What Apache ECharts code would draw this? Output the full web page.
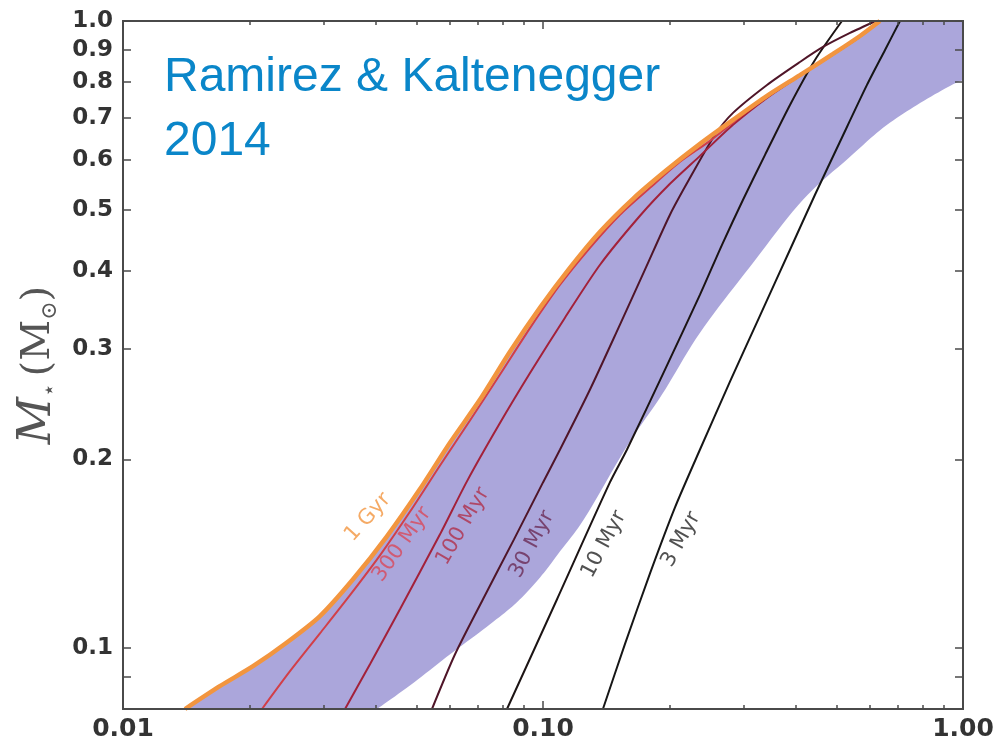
<!DOCTYPE html>
<html>
<head>
<meta charset="utf-8">
<script src="https://cdn.jsdelivr.net/npm/echarts@6/dist/echarts.min.js"></script>
<style>
  html, body { margin: 0; padding: 0; background: #ffffff; }
  #chart { width: 998px; height: 747px; }
</style>
</head>
<body>
<div id="chart"></div>
<script>
// Isochrones: stellar mass (M_sun) against distance, log-log
const iso1Gyr = [[0.01405,0.08],[0.0170,0.0870],[0.0204,0.0936],[0.0246,0.1022],[0.0294,0.1124],[0.0353,0.1288],[0.0425,0.1508],[0.0509,0.1792],[0.0601,0.2128],[0.0708,0.2491],[0.0835,0.2971],[0.0984,0.3491],[0.116,0.4043],[0.1367,0.4613],[0.1638,0.5206],[0.1973,0.579],[0.2365,0.637],[0.2834,0.6956],[0.3415,0.7597],[0.4091,0.820],[0.4903,0.886],[0.5685,0.9465],[0.634,1.0]];
const iso300Myr = [[0.02143,0.08],[0.02498,0.0919],[0.02944,0.1056],[0.03471,0.1215],[0.04091,0.1406],[0.0483,0.1653],[0.05686,0.1956],[0.0670,0.2307],[0.0790,0.2731],[0.0936,0.3256],[0.1098,0.3798],[0.1294,0.4350],[0.1525,0.4911],[0.1798,0.5421],[0.2120,0.5963],[0.2498,0.6440],[0.2944,0.7033],[0.3415,0.758],[0.4091,0.819],[0.4903,0.885],[0.5685,0.945],[0.634,1.0]];
const iso100Myr = [[0.03378,0.08],[0.03873,0.0943],[0.04565,0.1154],[0.05686,0.1519],[0.0659,0.1845],[0.0786,0.2273],[0.0936,0.2761],[0.1128,0.3365],[0.1367,0.4087],[0.1702,0.4892],[0.2006,0.5501],[0.2365,0.6095],[0.2834,0.6831],[0.3415,0.7541],[0.4091,0.818],[0.4903,0.884],[0.5685,0.944],[0.634,1.0]];
const iso30Myr = [[0.05441,0.08],[0.06174,0.0978],[0.07196,0.1197],[0.0853,0.1491],[0.1,0.1838],[0.1098,0.2074],[0.1294,0.2585],[0.1525,0.3281],[0.1749,0.4014],[0.2006,0.4911],[0.2239,0.5623],[0.2568,0.6585],[0.2834,0.7137],[0.3415,0.7908],[0.4091,0.8603],[0.4642,0.909],[0.5383,0.957],[0.62,1.0]];
const iso10Myr = [[0.08209,0.08],[0.1080,0.1197],[0.1443,0.1838],[0.1585,0.2074],[0.1952,0.2781],[0.2365,0.3662],[0.2668,0.4397],[0.2994,0.5188],[0.3378,0.6118],[0.3873,0.7348],[0.4442,0.8667],[0.515,1.0]];
const iso3Myr = [[0.1389,0.08],[0.1567,0.1015],[0.1798,0.1316],[0.2062,0.1677],[0.2365,0.2074],[0.2787,0.2661],[0.3286,0.3391],[0.3873,0.4318],[0.4442,0.5284],[0.5094,0.6418],[0.5907,0.7908],[0.6522,0.8991],[0.7079,1.0]];

// Shaded zone: upper edge follows the 1 Gyr curve, lower edge below
const bandUpper = iso1Gyr;
const bandCorner = [1.0, 1.0];
const bandLower = [[0.04025,0.08],[0.0483,0.0873],[0.0601,0.0978],[0.0748,0.1092],[0.0867,0.1184],[0.0984,0.1297],[0.1098,0.1427],[0.1259,0.1616],[0.1594,0.2113],[0.1920,0.2537],[0.2365,0.3185],[0.3111,0.4058],[0.4159,0.5188],[0.5383,0.6073],[0.6451,0.6755],[0.7771,0.7348],[0.931,0.788],[1.0,0.805]];

// Curve names and where each name sits (data coordinates)
const curveNames = ['1 Gyr','300 Myr','100 Myr','30 Myr','10 Myr','3 Myr'];
const nameAnchors = [[0.0383,0.1617],[0.04616,0.1464],[0.06449,0.1564],[0.09415,0.1464],[0.1397,0.1464],[0.2131,0.1491]];

// Axis ticks and labels
const xMajorTicks = [0.01, 0.1, 1];
const xMinorTicks = [0.02,0.03,0.04,0.05,0.06,0.07,0.08,0.09,0.2,0.3,0.4,0.5,0.6,0.7,0.8,0.9];
const xLabelValues = [0.01, 0.1, 1];
const xLabelTexts = ['0.01', '0.10', '1.00'];
const yTicks = [0.09,0.1,0.2,0.3,0.4,0.5,0.6,0.7,0.8,0.9,1.0];
const yLabelValues = [0.1,0.2,0.3,0.4,0.5,0.6,0.7,0.8,0.9,1.0];
const yLabelTexts = ['0.1','0.2','0.3','0.4','0.5','0.6','0.7','0.8','0.9','1.0'];

const AXIS = '#4a4a4a';
const BAND = '#aba6db';
const lineColors = ['#f2953f', '#d23f48', '#a3213a', '#4f1528', '#1c1414', '#161616'];
const nameColors = ['#f2953e', '#d9485a', '#b0304a', '#6a2a55', '#262626', '#262626'];
const nameAngles = [48, 55, 60, 62, 62, 61];

function labelText(values, texts) {
  return function (v) {
    for (let i = 0; i < values.length; i++) {
      if (Math.abs(values[i] - v) < 1e-9) return texts[i];
    }
    return '';
  };
}

// Catmull-Rom resampling of a pixel polyline so the shaded edge is smooth
function smoothPixels(pts, steps) {
  const out = [];
  const n = pts.length;
  for (let i = 0; i < n - 1; i++) {
    const p0 = pts[Math.max(i - 1, 0)], p1 = pts[i], p2 = pts[i + 1], p3 = pts[Math.min(i + 2, n - 1)];
    const c1 = [p1[0] + (p2[0] - p0[0]) / 6, p1[1] + (p2[1] - p0[1]) / 6];
    const c2 = [p2[0] - (p3[0] - p1[0]) / 6, p2[1] - (p3[1] - p1[1]) / 6];
    for (let s = 0; s < steps; s++) {
      const t = s / steps, u = 1 - t;
      out.push([
        u*u*u*p1[0] + 3*u*u*t*c1[0] + 3*u*t*t*c2[0] + t*t*t*p2[0],
        u*u*u*p1[1] + 3*u*u*t*c1[1] + 3*u*t*t*c2[1] + t*t*t*p2[1]
      ]);
    }
  }
  out.push(pts[n - 1]);
  return out;
}

function xAxisDef(position, ticks, len, withLabels) {
  return {
    type: 'log', logBase: 10, min: 0.01, max: 1, position: position, z: 10,
    axisLine: { show: true, lineStyle: { color: AXIS, width: 2 } },
    axisTick: { show: true, inside: true, length: len, customValues: ticks, lineStyle: { color: AXIS, width: 1.5 } },
    axisLabel: withLabels ? {
      show: true, customValues: xLabelValues, margin: 8,
      fontFamily: 'DejaVu Sans', fontWeight: 'bold', fontSize: 25, color: '#333333',
      formatter: labelText(xLabelValues, xLabelTexts)
    } : { show: false },
    splitLine: { show: false }, minorTick: { show: false }, minorSplitLine: { show: false }
  };
}

function yAxisDef(position, withLabels) {
  const ax = {
    type: 'log', logBase: 10, min: 0.08, max: 1, position: position, z: 10,
    axisLine: { show: true, lineStyle: { color: AXIS, width: 2 } },
    axisTick: { show: true, inside: true, length: 8, customValues: yTicks, lineStyle: { color: AXIS, width: 1.5 } },
    axisLabel: withLabels ? {
      show: true, customValues: yLabelValues, margin: 10,
      fontFamily: 'DejaVu Sans', fontWeight: 'bold', fontSize: 23, color: '#333333',
      formatter: labelText(yLabelValues, yLabelTexts)
    } : { show: false },
    splitLine: { show: false }, minorTick: { show: false }, minorSplitLine: { show: false }
  };
  if (withLabels) {
    ax.name = '{i|M}{s|⋆}  {r|(M}{s|⊙}{r|)}';
    ax.nameLocation = 'middle';
    ax.nameRotate = 90;
    ax.nameGap = 61;
    ax.nameTextStyle = {
      color: '#555555',
      rich: {
        i: { fontFamily: 'DejaVu Serif', fontStyle: 'italic', fontSize: 46, color: '#555555' },
        r: { fontFamily: 'DejaVu Serif', fontSize: 40, color: '#555555' },
        s: { fontFamily: 'DejaVu Serif', fontSize: 22, color: '#555555', verticalAlign: 'bottom' }
      }
    };
  }
  return ax;
}

function isoSeries(name, data, color, width, z) {
  return {
    name: name, type: 'line', data: data, xAxisIndex: 0, yAxisIndex: 0,
    showSymbol: false, smooth: 0.25, clip: true, z: z, silent: true,
    lineStyle: { color: color, width: width }
  };
}

const chart = echarts.init(document.getElementById('chart'), null, { renderer: 'canvas' });

chart.setOption({
  animation: false,
  backgroundColor: '#ffffff',
  title: {
    text: 'Ramirez & Kaltenegger\n2014',
    left: 159, top: 41,
    textStyle: { fontFamily: 'Liberation Sans', fontWeight: 'normal', fontSize: 48, lineHeight: 64, color: '#0a86c9' }
  },
  grid: { left: 123, right: 35, top: 21, bottom: 38, containLabel: false, outerBoundsMode: 'none' },
  xAxis: [
    xAxisDef('bottom', xMajorTicks, 8, true),
    xAxisDef('bottom', xMinorTicks, 4, false),
    xAxisDef('top', xMajorTicks, 8, false),
    xAxisDef('top', xMinorTicks, 4, false)
  ],
  yAxis: [
    yAxisDef('left', true),
    yAxisDef('right', false)
  ],
  series: [
    {
      name: 'zone', type: 'custom', coordinateSystem: 'cartesian2d',
      xAxisIndex: 0, yAxisIndex: 0, z: 1, silent: true,
      data: [[0.1, 0.1]],
      renderItem: function (params, api) {
        const top = smoothPixels(bandUpper.map(function (p) { return api.coord(p); }), 10);
        const low = smoothPixels(bandLower.slice().reverse().map(function (p) { return api.coord(p); }), 10);
        const pts = top.concat([api.coord(bandCorner)]).concat(low);
        return { type: 'polygon', shape: { points: pts }, style: { fill: BAND, stroke: null } };
      }
    },
    isoSeries('3 Myr', iso3Myr, lineColors[5], 2, 2),
    isoSeries('10 Myr', iso10Myr, lineColors[4], 2, 2),
    isoSeries('30 Myr', iso30Myr, lineColors[3], 2, 2),
    isoSeries('100 Myr', iso100Myr, lineColors[2], 2, 2),
    isoSeries('300 Myr', iso300Myr, lineColors[1], 2, 2),
    isoSeries('1 Gyr', iso1Gyr, lineColors[0], 4.5, 3),
    {
      name: 'curve names', type: 'scatter', xAxisIndex: 0, yAxisIndex: 0,
      symbolSize: 0, z: 5, silent: true,
      data: nameAnchors.map(function (p, i) {
        return {
          name: curveNames[i], value: p,
          label: { rotate: nameAngles[i], color: nameColors[i] }
        };
      }),
      label: {
        show: true, position: 'inside', formatter: '{b}',
        fontFamily: 'DejaVu Sans', fontSize: 21, fontWeight: 'normal'
      }
    }
  ]
});
</script>
</body>
</html>
